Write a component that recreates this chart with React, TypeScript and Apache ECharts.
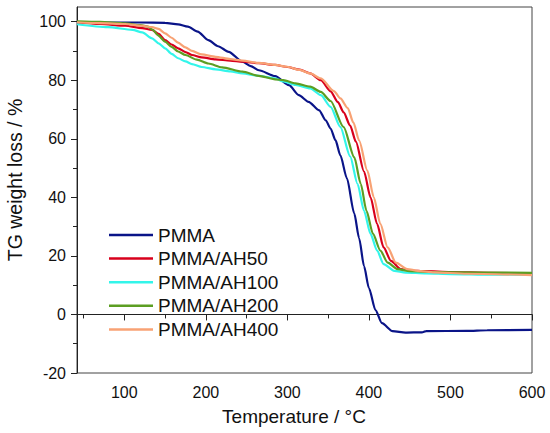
import React, { useEffect, useRef } from "react";
import * as echarts from "echarts";

const seriesNames = ["PMMA", "PMMA/AH50", "PMMA/AH100", "PMMA/AH200", "PMMA/AH400"];
const seriesColors = ["#0a1488", "#d8001c", "#33f5ea", "#5c9e22", "#f8a274"];

const xMajorTicks = [100, 200, 300, 400, 500, 600];
const xMinorTicks = [50, 150, 250, 350, 450, 550];
const yMajorTicks = [-20, 0, 20, 40, 60, 80, 100];
const yMinorTicks = [-10, 10, 30, 50, 70, 90];

const pmma = [
  [42, 99.7], [80, 99.7], [120, 99.7], [150, 99.6], [166, 99.1], [178, 98.3], [190, 96.6],
  [203, 93.7], [215, 91.6], [228, 89.7], [245, 86.3], [255, 84.8], [265, 83.4], [285, 81.4],
  [302, 78.3], [314, 74.9], [326, 72.6], [339, 69.7], [347, 66.3], [353, 63.5], [359, 59.5],
  [365, 54.3], [373, 46.5], [382, 34.5], [388, 26], [394, 16.5], [400, 9], [408, 1.5],
  [416, -3], [429, -5.7], [445, -6.2], [465, -6.1], [470, -5.7], [520, -5.6], [545, -5.4],
  [600, -5.3],
];

const ah50 = [
  [42, 99.8], [70, 99.2], [101, 98.6], [122, 97.8], [134, 97.2], [142, 95.8], [150, 93.7],
  [158, 92.2], [166, 90.9], [175, 89.6], [183, 88.6], [195, 87.8], [212, 87.1], [230, 86.7],
  [245, 86.3], [265, 85.8], [285, 85.2], [300, 84.5], [315, 83.6], [328, 82.3], [341, 80],
  [353, 76.2], [362, 72.5], [369, 69], [377, 64.5], [384, 59], [394, 48.8], [402, 40],
  [410, 30.9], [418, 22.9], [427, 18.3], [439, 15.5], [450, 15], [470, 14.8], [500, 14.5],
  [550, 14.2], [600, 14.0],
];

const ah100 = [
  [42, 99.1], [80, 98.1], [110, 97.2], [122, 96.3], [134, 94.3], [142, 92.6], [150, 90.9],
  [158, 89], [166, 87.5], [175, 86.4], [183, 85.5], [195, 84.5], [212, 83.7], [230, 83],
  [245, 82.3], [265, 81.5], [285, 80.6], [295, 79.6], [310, 78.4], [328, 77.2], [341, 74.9],
  [353, 70.9], [365, 64], [377, 54], [386, 44.6], [394, 35.4], [402, 27.5], [410, 21.8],
  [418, 17.2], [431, 14.9], [445, 14.3], [470, 14], [500, 13.8], [550, 13.6], [600, 13.5],
];

const ah200 = [
  [42, 100.1], [70, 99.9], [101, 99.4], [120, 98.8], [129, 98.3], [135, 97.2], [141, 95.4],
  [150, 93.2], [158, 91.4], [166, 89.8], [175, 88.6], [189, 87], [203, 85.7], [220, 84.4],
  [245, 82.9], [265, 81.5], [285, 80.3], [295, 80], [310, 78.9], [328, 77.8], [341, 76],
  [353, 72.9], [369, 64], [382, 53.7], [390, 44.6], [397, 35.4], [405, 27.5], [414, 21.8],
  [423, 17.7], [435, 15.5], [450, 14.8], [480, 14.5], [540, 14.3], [600, 14.2],
];

const ah400 = [
  [42, 99.8], [70, 99.5], [101, 99.2], [122, 98.6], [134, 98.1], [142, 97.5], [150, 96],
  [158, 94.5], [166, 92.8], [175, 91.2], [183, 90], [195, 88.8], [212, 88], [230, 87.2],
  [245, 86.7], [265, 85.9], [285, 85.2], [300, 84.6], [315, 83.5], [328, 82.3], [341, 80.6],
  [357, 76.3], [365, 73.8], [374, 70.5], [381, 65.5], [388, 59.4], [398, 49.2], [406, 40],
  [414, 30.9], [423, 22.9], [433, 17.7], [447, 15.5], [460, 14.9], [480, 14.4], [520, 13.9],
  [600, 13.4],
];

const seriesData = [pmma, ah50, ah100, ah200, ah400];

const FONT = "'Liberation Sans', Arial, Helvetica, sans-serif";

export default function App() {
  const ref = useRef<HTMLDivElement>(null);

  useEffect(() => {
    if (!ref.current) return;
    const chart = echarts.init(ref.current, undefined, { renderer: "svg" });
    const axisColor = "#222";
    chart.setOption({
      animation: false,
      backgroundColor: "#fff",
      textStyle: { fontFamily: FONT },
      grid: {
        left: 77,
        right: 18,
        top: 7,
        bottom: 60,
        show: true,
        borderColor: "#444",
        borderWidth: 1,
        backgroundColor: "transparent",
      },
      legend: {
        orient: "vertical",
        left: 109,
        top: 225,
        padding: 0,
        icon: "rect",
        itemWidth: 44,
        itemHeight: 2.5,
        itemGap: 3.6,
        data: seriesNames,
        textStyle: { fontSize: 19, color: "#111", fontFamily: FONT, lineHeight: 20 },
      },
      xAxis: [
        {
          type: "value",
          min: 42,
          max: 600,
          position: "bottom",
          axisLine: { show: true, lineStyle: { color: axisColor, width: 1 } },
          axisTick: { show: true, length: 6, customValues: xMajorTicks, lineStyle: { color: axisColor } },
          axisLabel: { customValues: xMajorTicks, fontSize: 16, color: "#111", margin: 11, fontFamily: FONT },
          splitLine: { show: false },
        },
        {
          type: "value",
          min: 42,
          max: 600,
          position: "bottom",
          axisLine: { show: false },
          axisTick: { show: true, length: 4, customValues: xMinorTicks, lineStyle: { color: axisColor } },
          axisLabel: { show: false },
          splitLine: { show: false },
        },
      ],
      yAxis: [
        {
          type: "value",
          min: -20,
          max: 105,
          position: "left",
          axisLine: { show: true, lineStyle: { color: axisColor, width: 1 } },
          axisTick: { show: true, length: 6, customValues: yMajorTicks, lineStyle: { color: axisColor } },
          axisLabel: { customValues: yMajorTicks, fontSize: 16, color: "#111", margin: 11, fontFamily: FONT },
          splitLine: { show: false },
        },
        {
          type: "value",
          min: -20,
          max: 105,
          position: "left",
          axisLine: { show: false },
          axisTick: { show: true, length: 4, customValues: yMinorTicks, lineStyle: { color: axisColor } },
          axisLabel: { show: false },
          splitLine: { show: false },
        },
      ],
      graphic: [
        {
          type: "text",
          x: 294,
          y: 416,
          style: {
            text: "Temperature / °C",
            fontSize: 19,
            fontFamily: FONT,
            fill: "#111",
            textAlign: "center",
            textVerticalAlign: "middle",
          },
        },
        {
          type: "text",
          x: 15,
          y: 180,
          rotation: Math.PI / 2,
          style: {
            text: "TG weight loss / %",
            fontSize: 19.5,
            fontFamily: FONT,
            fill: "#111",
            textAlign: "center",
            textVerticalAlign: "middle",
          },
        },
      ],
      series: seriesNames.map((name, i) => ({
        name,
        type: "line",
        xAxisIndex: 0,
        yAxisIndex: 0,
        data: seriesData[i],
        symbol: "none",
        showSymbol: false,
        smooth: 0.25,
        smoothMonotone: "x",
        color: seriesColors[i],
        itemStyle: { color: seriesColors[i] },
        lineStyle: { color: seriesColors[i], width: 2.2 },
        z: 2 + i,
      })),
    });
    return () => chart.dispose();
  }, []);

  return (
    <div
      ref={ref}
      style={{ position: "fixed", left: 0, top: 0, width: 550, height: 433, background: "#fff" }}
    />
  );
}
